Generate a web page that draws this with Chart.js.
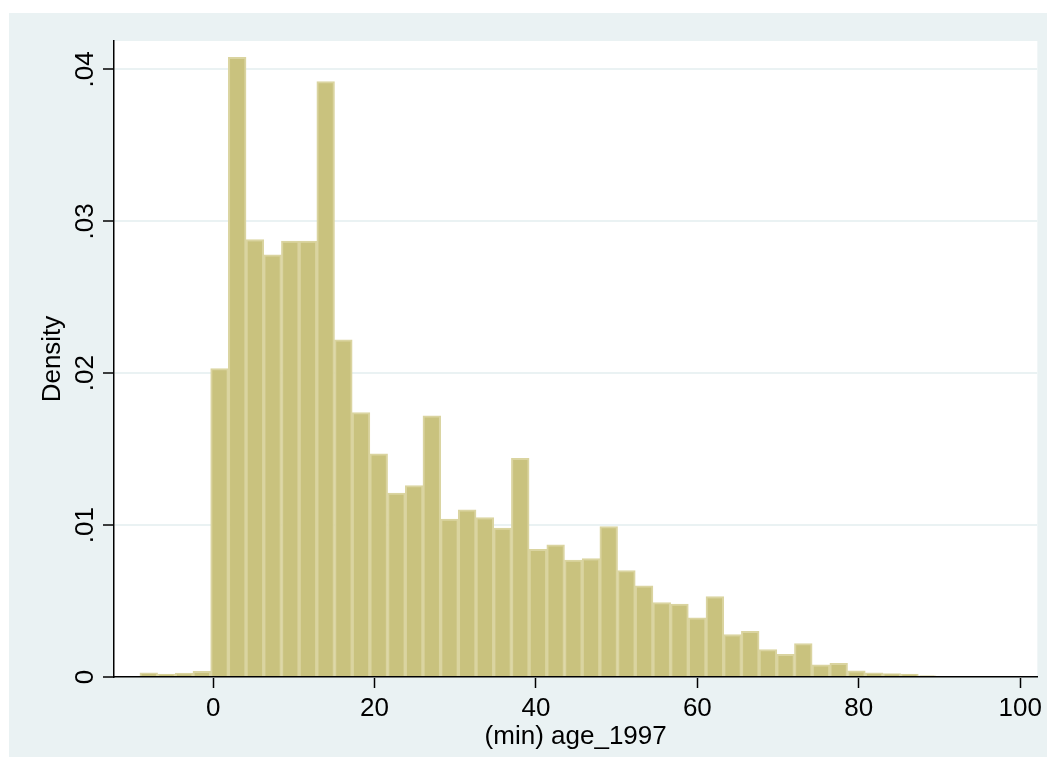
<!DOCTYPE html>
<html lang="en">
<head>
<meta charset="utf-8">
<title>Histogram age_1997</title>
<script src="https://cdn.jsdelivr.net/npm/chart.js@4.4.1/dist/chart.umd.min.js"></script>
<style>
  body { margin: 0; background: #ffffff; }
  #frame { position: absolute; left: 9px; top: 13px; width: 1038px; height: 744px; background: #eaf2f3; }
</style>
</head>
<body>
<div id="frame"><canvas id="myChart" width="1038" height="744"></canvas></div>
<script>
// bin midpoints of (min) age_1997, bin width about 2.19
let binCenters = [
    -7.974, -5.782, -3.590, -1.398, 0.794, 2.986, 5.178, 7.370, 9.562, 11.754,
    13.946, 16.138, 18.330, 20.522, 22.714, 24.906, 27.098, 29.290, 31.482, 33.674,
    35.866, 38.058, 40.250, 42.442, 44.634, 46.826, 49.018, 51.210, 53.402, 55.594,
    57.786, 59.978, 62.170, 64.362, 66.554, 68.746, 70.938, 73.130, 75.322, 77.514,
    79.706, 81.898, 84.090, 86.282, 88.474
];

// density
let density = [
    0.00028, 0.0002, 0.00026, 0.00038, 0.0203, 0.0408, 0.0288, 0.0278, 0.0287, 0.0287,
    0.0392, 0.0222, 0.0174, 0.0147, 0.0121, 0.0126, 0.0172, 0.0104, 0.0110, 0.0105,
    0.0098, 0.0144, 0.0084, 0.0087, 0.0077, 0.0078, 0.0099, 0.0070, 0.0060, 0.0049,
    0.0048, 0.0039, 0.0053, 0.0028, 0.0030, 0.0018, 0.0015, 0.0022, 0.0008, 0.0009,
    0.0004, 0.00028, 0.00022, 0.0002, 0.00008
];

let xTicks = [0, 20, 40, 60, 80, 100];
let yTicks = [0, 0.01, 0.02, 0.03, 0.04];
let yTickLabels = ['0', '.01', '.02', '.03', '.04'];

let fontFamily = "'Liberation Sans', Arial, sans-serif";
let bgColor = '#eaf2f3';

let points = [];
for (let i = 0; i < binCenters.length; i++) {
    points.push({x: binCenters[i], y: density[i]});
}

// white plot region inside the light graph region
const plotBackground = {
    id: 'plotBackground',
    beforeDraw(chart) {
        let a = chart.chartArea;
        let ctx = chart.ctx;
        ctx.save();
        ctx.fillStyle = '#ffffff';
        ctx.fillRect(a.left, a.top, a.right - a.left, a.bottom - a.top);
        ctx.restore();
    }
};

const ctx = document.getElementById('myChart').getContext('2d');
const myChart = new Chart(ctx, {
    type: 'bar',
    data: {
        datasets: [{
            label: 'Density',
            data: points,
            backgroundColor: 'rgb(201, 194, 126)',
            borderColor: 'rgb(218, 212, 160)',
            borderWidth: 2,
            barPercentage: 1,
            categoryPercentage: 1
        }]
    },
    options: {
        responsive: false,
        animation: false,
        layout: { padding: { top: 28, right: 8, left: 0, bottom: 0 } },
        plugins: {
            legend: { display: false },
            tooltip: { enabled: false }
        },
        scales: {
            x: {
                type: 'linear',
                min: -12.28,
                max: 102.13,
                offset: false,
                afterFit: (scale) => { scale.height = 80; },
                afterBuildTicks: (scale) => { scale.ticks = xTicks.map(v => ({value: v})); },
                grid: {
                    offset: false,
                    drawOnChartArea: false,
                    drawTicks: true,
                    tickLength: 11,
                    tickColor: '#000000',
                    tickWidth: 1.5
                },
                border: { display: true, color: '#000000', width: 1.5, z: 1 },
                ticks: {
                    color: '#000000',
                    padding: 5,
                    maxRotation: 0,
                    font: { family: fontFamily, size: 26 }
                },
                title: {
                    display: true,
                    text: '(min) age_1997',
                    color: '#000000',
                    padding: { top: 0, bottom: 5 },
                    font: { family: fontFamily, size: 26 }
                }
            },
            y: {
                min: 0,
                max: 0.04187,
                afterFit: (scale) => { scale.width = 105; },
                afterBuildTicks: (scale) => { scale.ticks = yTicks.map(v => ({value: v})); },
                grid: {
                    color: bgColor,
                    lineWidth: 2,
                    drawTicks: true,
                    tickLength: 11,
                    tickColor: '#000000',
                    tickWidth: 1.5
                },
                border: { display: true, color: '#000000', width: 1.5, z: 1 },
                ticks: {
                    color: '#000000',
                    padding: -1,
                    minRotation: 90,
                    maxRotation: 90,
                    crossAlign: 'center',
                    font: { family: fontFamily, size: 26 },
                    callback: (value) => yTickLabels[yTicks.indexOf(value)]
                },
                title: {
                    display: true,
                    text: 'Density',
                    color: '#000000',
                    padding: { top: 28, bottom: 0 },
                    font: { family: fontFamily, size: 26 }
                }
            }
        }
    },
    plugins: [plotBackground]
});
</script>
</body>
</html>
